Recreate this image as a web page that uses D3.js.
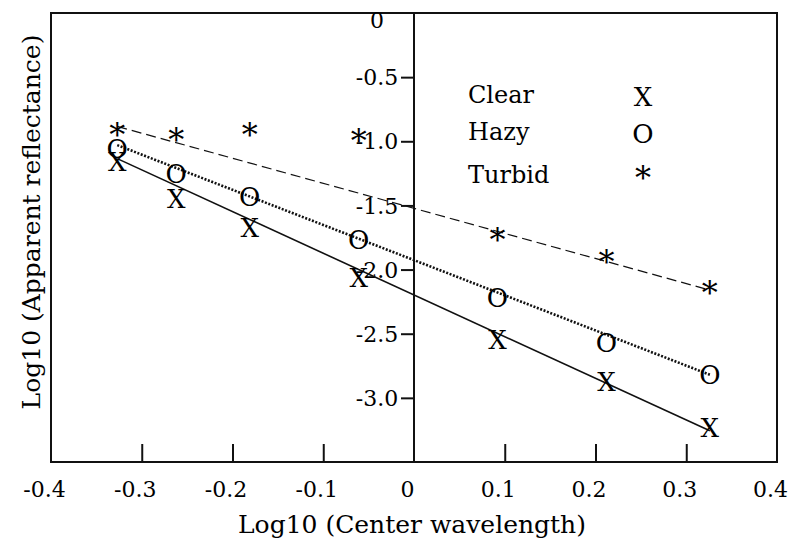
<!DOCTYPE html>
<html>
<head>
<meta charset="utf-8">
<script src="https://cdn.jsdelivr.net/npm/d3@7"></script>
<style>
  body { margin: 0; background: #fff; }
  svg { display: block; }
  text { font-family: "DejaVu Serif", serif; fill: #000; }
</style>
</head>
<body>
<svg id="chart" width="792" height="545"></svg>
<script>
// log10 of band centre wavelength, shared by the three sky cases
const logWavelength = [-0.327, -0.262, -0.181, -0.061, 0.092, 0.212, 0.326];
const clear = [-1.16, -1.45, -1.67, -2.06, -2.55, -2.87, -3.23];
const hazy = [-1.06, -1.25, -1.43, -1.77, -2.22, -2.57, -2.82];
const turbid = [-0.91, -0.95, -0.91, -0.96, -1.73, -1.90, -2.14];

// fitted lines, end points
const clearFit = [[-0.327, -1.135], [0.326, -3.257]];
const hazyFit = [[-0.327, -1.03], [0.326, -2.82]];
const turbidFit = [[-0.327, -0.884], [0.326, -2.16]];

const xTicks = [-0.4, -0.3, -0.2, -0.1, 0, 0.1, 0.2, 0.3, 0.4];
const yTicks = [-3.0, -2.5, -2.0, -1.5, -1.0, -0.5, 0];
const legendLabels = ["Clear", "Hazy", "Turbid"];
const glyphs = ["X", "O", "*"];

const svg = d3.select("#chart");
const pLeft = 51, pRight = 777, pTop = 13, pBottom = 462;

const x = d3.scaleLinear().domain([-0.4, 0.4]).range([pLeft, pRight]);
const y = d3.scaleLinear().domain([-3.5, 0]).range([pBottom, pTop]);

// frame
svg.append("rect")
  .attr("x", pLeft).attr("y", pTop)
  .attr("width", pRight - pLeft).attr("height", pBottom - pTop)
  .attr("fill", "none").attr("stroke", "#111").attr("stroke-width", 2);

// x axis: inner ticks on the bottom edge, labels below
const xAxis = svg.append("g")
  .attr("transform", `translate(0,${pBottom})`)
  .call(d3.axisBottom(x).tickValues(xTicks).tickSize(-18)
    .tickFormat(d => (d === 0 ? "0" : d.toFixed(1))));
xAxis.select(".domain").remove();
xAxis.selectAll(".tick line")
  .attr("stroke", "#111").attr("stroke-width", 2)
  .attr("display", d => (d === 0 || Math.abs(d) === 0.4 ? "none" : null));
xAxis.selectAll(".tick text")
  .attr("y", 35).attr("dy", 0).attr("dx", -7)
  .style("font-family", "DejaVu Serif").style("font-size", "22px").attr("fill", "#000");

// y axis sits on x = 0
const x0 = x(0);
svg.append("line")
  .attr("x1", x0).attr("x2", x0).attr("y1", pTop).attr("y2", pBottom)
  .attr("stroke", "#111").attr("stroke-width", 2);
const yAxis = svg.append("g")
  .attr("transform", `translate(${x0},0)`)
  .call(d3.axisLeft(y).tickValues(yTicks).tickSize(13)
    .tickFormat(d => (d === 0 ? "0" : d.toFixed(1))));
yAxis.select(".domain").remove();
yAxis.selectAll(".tick line")
  .attr("stroke", "#111").attr("stroke-width", 2)
  .attr("display", d => (d === 0 ? "none" : null));
yAxis.selectAll(".tick text")
  .attr("x", -37).attr("text-anchor", "middle")
  .attr("dy", d => (d === 0 ? "0.65em" : "0.35em"))
  .style("font-family", "DejaVu Serif").style("font-size", "22px").attr("fill", "#000");

// axis titles
svg.append("text")
  .attr("x", 412).attr("y", 533)
  .attr("text-anchor", "middle").style("font-size", "25px")
  .text("Log10 (Center wavelength)");
svg.append("text")
  .attr("transform", "translate(40,222) rotate(-90)")
  .attr("text-anchor", "middle").style("font-size", "25px")
  .text("Log10 (Apparent reflectance)");

// fit lines
const line = d3.line().x(d => x(d[0])).y(d => y(d[1]));
svg.append("path").datum(clearFit).attr("d", line)
  .attr("fill", "none").attr("stroke", "#111").attr("stroke-width", 1.6);
svg.append("path").datum(hazyFit).attr("d", line)
  .attr("fill", "none").attr("stroke", "#111").attr("stroke-width", 2.6)
  .attr("stroke-dasharray", "2,1.6");
svg.append("path").datum(turbidFit).attr("d", line)
  .attr("fill", "none").attr("stroke", "#111").attr("stroke-width", 1.2)
  .attr("stroke-dasharray", "10,5");

// glyph markers (asterisk drawn bigger, it is a small glyph)
const glyphSize = [26, 26, 32];
const glyphDy = ["0.36em", "0.36em", "0.5em"];
const series = [clear, hazy, turbid];
series.forEach((vals, s) => {
  svg.append("g").selectAll("text")
    .data(vals)
    .join("text")
    .attr("x", (d, i) => x(logWavelength[i]))
    .attr("y", d => y(d))
    .attr("dy", glyphDy[s])
    .attr("text-anchor", "middle")
    .style("font-size", glyphSize[s] + "px")
    .text(glyphs[s]);
});

// legend
const legendY = [103, 140, 183];
const lg = svg.append("g");
lg.selectAll("text.lab")
  .data(legendLabels)
  .join("text")
  .attr("class", "lab")
  .attr("x", 468).attr("y", (d, i) => legendY[i])
  .style("font-size", "24px")
  .text(d => d);
lg.selectAll("text.sym")
  .data(glyphs)
  .join("text")
  .attr("class", "sym")
  .attr("x", 643).attr("y", (d, i) => legendY[i] + (i === 2 ? 6 : 3))
  .attr("text-anchor", "middle")
  .style("font-size", (d, i) => glyphSize[i] + "px")
  .text(d => d);
</script>
</body>
</html>
